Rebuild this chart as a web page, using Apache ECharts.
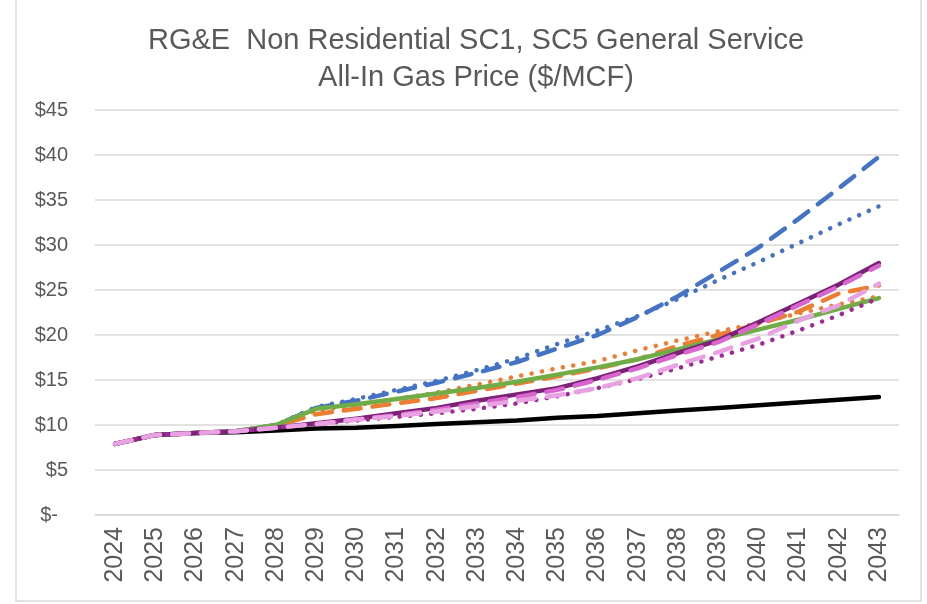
<!DOCTYPE html>
<html>
<head>
<meta charset="utf-8">
<script src="https://cdn.jsdelivr.net/npm/echarts@6/dist/echarts.min.js"></script>
<style>
  html, body { margin: 0; padding: 0; background: #fff; }
  #chart { width: 927px; height: 604px; }
</style>
</head>
<body>
<div id="chart"></div>
<script>
var years = ['2024', '2025', '2026', '2027', '2028', '2029', '2030', '2031', '2032', '2033',
             '2034', '2035', '2036', '2037', '2038', '2039', '2040', '2041', '2042', '2043'];

var blackSolid   = [7.9, 8.9, 9.1, 9.2, 9.4, 9.6, 9.7, 9.9, 10.1, 10.3, 10.5, 10.8, 11.0, 11.3, 11.6, 11.9, 12.2, 12.5, 12.8, 13.1];
var blueDashed   = [7.9, 8.9, 9.1, 9.3, 10.0, 11.9, 12.7, 13.7, 14.7, 15.8, 17.0, 18.5, 20.0, 22.0, 24.3, 27.0, 29.7, 32.9, 36.3, 39.8];
var blueDotted   = [7.9, 8.9, 9.1, 9.3, 10.0, 12.0, 12.9, 13.9, 14.9, 16.1, 17.4, 19.0, 20.5, 22.1, 24.0, 26.1, 28.1, 30.2, 32.3, 34.3];
var orangeDashed = [7.9, 8.9, 9.1, 9.3, 9.9, 11.2, 11.8, 12.4, 13.0, 13.8, 14.6, 15.4, 16.3, 17.3, 18.8, 20.0, 21.2, 22.6, 24.6, 25.5];
var orangeDotted = [7.9, 8.9, 9.1, 9.3, 9.9, 11.6, 12.2, 12.9, 13.6, 14.5, 15.4, 16.3, 17.1, 18.3, 19.4, 20.4, 21.3, 22.4, 23.4, 24.3];
var greenSolid   = [7.9, 8.9, 9.1, 9.3, 10.0, 11.8, 12.3, 12.9, 13.5, 14.1, 14.8, 15.6, 16.4, 17.3, 18.4, 19.5, 20.6, 21.7, 22.9, 24.1];
var purpleSolid  = [7.9, 8.9, 9.1, 9.3, 9.7, 10.2, 10.7, 11.3, 11.9, 12.7, 13.4, 14.1, 15.2, 16.5, 18.0, 19.4, 21.4, 23.5, 25.6, 28.0];
var pinkDashed   = [7.9, 8.9, 9.1, 9.3, 9.7, 10.1, 10.6, 11.1, 11.7, 12.4, 13.1, 13.9, 15.0, 16.3, 17.8, 19.2, 21.2, 23.3, 25.4, 27.7];
var purpleDotted = [7.9, 8.9, 9.1, 9.3, 9.7, 10.1, 10.5, 10.9, 11.3, 11.8, 12.4, 13.2, 14.1, 15.1, 16.3, 17.6, 18.9, 20.5, 22.2, 24.1];
var lightPinkDashed = [7.9, 8.9, 9.1, 9.3, 9.7, 10.1, 10.6, 11.0, 11.5, 12.1, 12.7, 13.3, 14.1, 15.2, 16.7, 18.1, 19.6, 21.6, 23.3, 25.7];

var yTicks = [0, 5, 10, 15, 20, 25, 30, 35, 40, 45];

var chart = echarts.init(document.getElementById('chart'));

var DASH = [17, 12];
var DOT = [0.1, 10.5];
var FONT = 'Liberation Sans, Arial, sans-serif';

function line(name, data, color, width, type) {
    return {
        name: name,
        type: 'line',
        data: data,
        symbol: 'none',
        smooth: false,
        silent: true,
        lineStyle: {
            color: color,
            width: width,
            type: type,
            cap: 'round',
            join: 'round'
        }
    };
}

var option = {
    animation: false,
    backgroundColor: '#fff',
    title: {
        text: 'RG&E  Non Residential SC1, SC5 General Service\nAll-In Gas Price ($/MCF)',
        left: 471,
        top: 17,
        textAlign: 'center',
        textStyle: {
            fontFamily: FONT,
            fontSize: 29,
            lineHeight: 37,
            fontWeight: 'normal',
            color: '#595959'
        }
    },
    graphic: [{
        type: 'rect',
        shape: { x: 16, y: -2, width: 905, height: 603 },
        style: { fill: 'none', stroke: '#d9d9d9', lineWidth: 1.5 },
        silent: true
    }],
    grid: {
        left: 95,
        right: 28,
        top: 110,
        bottom: 89
    },
    xAxis: {
        type: 'category',
        data: years,
        boundaryGap: true,
        axisLine: { lineStyle: { color: '#d9d9d9', width: 1.5 } },
        axisTick: { show: false },
        axisLabel: {
            rotate: 90,
            margin: 12,
            interval: 0,
            fontFamily: FONT,
            fontSize: 25,
            color: '#595959'
        }
    },
    yAxis: {
        type: 'value',
        min: 0,
        max: 45,
        interval: 5,
        axisLine: { show: false },
        axisTick: { show: false },
        splitLine: { lineStyle: { color: '#d9d9d9', width: 1.5 } },
        axisLabel: {
            margin: 27,
            fontFamily: FONT,
            fontSize: 20,
            color: '#595959',
            formatter: function (v) {
                if (yTicks.indexOf(v) < 0) return '';
                return v === 0 ? '{z|$-}' : '$' + v;
            },
            rich: {
                z: {
                    fontFamily: FONT,
                    fontSize: 20,
                    color: '#595959',
                    padding: [0, 10, 0, 0]
                }
            }
        }
    },
    series: [
        line('Black', blackSolid, '#000000', 4.5, 'solid'),
        line('Blue dashed', blueDashed, '#4472C4', 4.5, DASH),
        line('Blue dotted', blueDotted, '#4472C4', 4.5, DOT),
        line('Orange dashed', orangeDashed, '#ED7D31', 4.5, DASH),
        line('Orange dotted', orangeDotted, '#ED7D31', 4.5, DOT),
        line('Green', greenSolid, '#70AD47', 4.5, 'solid'),
        line('Purple', purpleSolid, '#7B2276', 4.5, 'solid'),
        line('Pink dashed', pinkDashed, '#D866CE', 4.5, DASH),
        line('Purple dotted', purpleDotted, '#A02898', 4.5, DOT),
        line('Light pink dashed', lightPinkDashed, '#E8A2E1', 4.5, DASH)
    ]
};

chart.setOption(option);
</script>
</body>
</html>
